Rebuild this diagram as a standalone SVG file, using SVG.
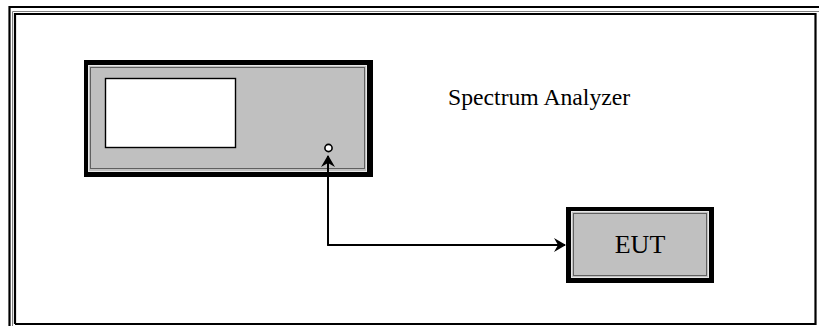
<svg xmlns="http://www.w3.org/2000/svg" width="819" height="326" viewBox="0 0 819 326">
<style>
.frame{fill:none;stroke:#000;stroke-width:2.2}
.frameg{fill:none;stroke:#808080;stroke-width:1}
.dev{fill:#000}
.panel{fill:#c0c0c0;stroke:#e8e8e8;stroke-width:1}
.inner{fill:none;stroke:#606060;stroke-width:1}
.wire{fill:none;stroke:#000;stroke-width:1.8}
.lbl{font-family:"Liberation Serif","Times New Roman",serif;fill:#000}
</style>
<defs>
<marker id="ah" viewBox="0 0 12 14" refX="11" refY="7" markerWidth="12" markerHeight="14" markerUnits="userSpaceOnUse" orient="auto">
<path d="M0,0 L12,7 L0,14 L4,7 Z" fill="#000"/>
</marker>
</defs>
<g id="border">
<path class="frame" d="M9.5,326 V7 H819"/>
<path class="frameg" d="M12.5,326 V11.5 H819"/>
<path class="frame" d="M15,324 V14 H815.5 V324 H15"/>
</g>
<g id="analyzer">
<rect class="dev" x="84" y="60" width="289" height="117"/>
<rect class="panel" x="88.5" y="65.5" width="278" height="106"/>
<rect class="inner" x="90.5" y="67.5" width="274" height="101"/>
<rect x="105.5" y="78.5" width="130" height="69" fill="#fff" stroke="#000" stroke-width="1.4"/>
<circle cx="328.5" cy="148" r="3.6" fill="#fff" stroke="#000" stroke-width="1.6"/>
</g>
<g id="label-analyzer">
<text class="lbl" x="448" y="105" font-size="23.7">Spectrum Analyzer</text>
</g>
<g id="eut">
<rect class="dev" x="566" y="207" width="148" height="76"/>
<rect class="panel" x="571.5" y="211.5" width="137" height="66"/>
<rect class="inner" x="573.5" y="213.5" width="133" height="62"/>
<text class="lbl" x="640" y="253.3" font-size="26" text-anchor="middle">EUT</text>
</g>
<g id="connectors">
<path class="wire" d="M328,156 V245 H565" marker-end="url(#ah)"/>
<path class="wire" d="M328,245 V156" marker-end="url(#ah)"/>
</g>
</svg>
